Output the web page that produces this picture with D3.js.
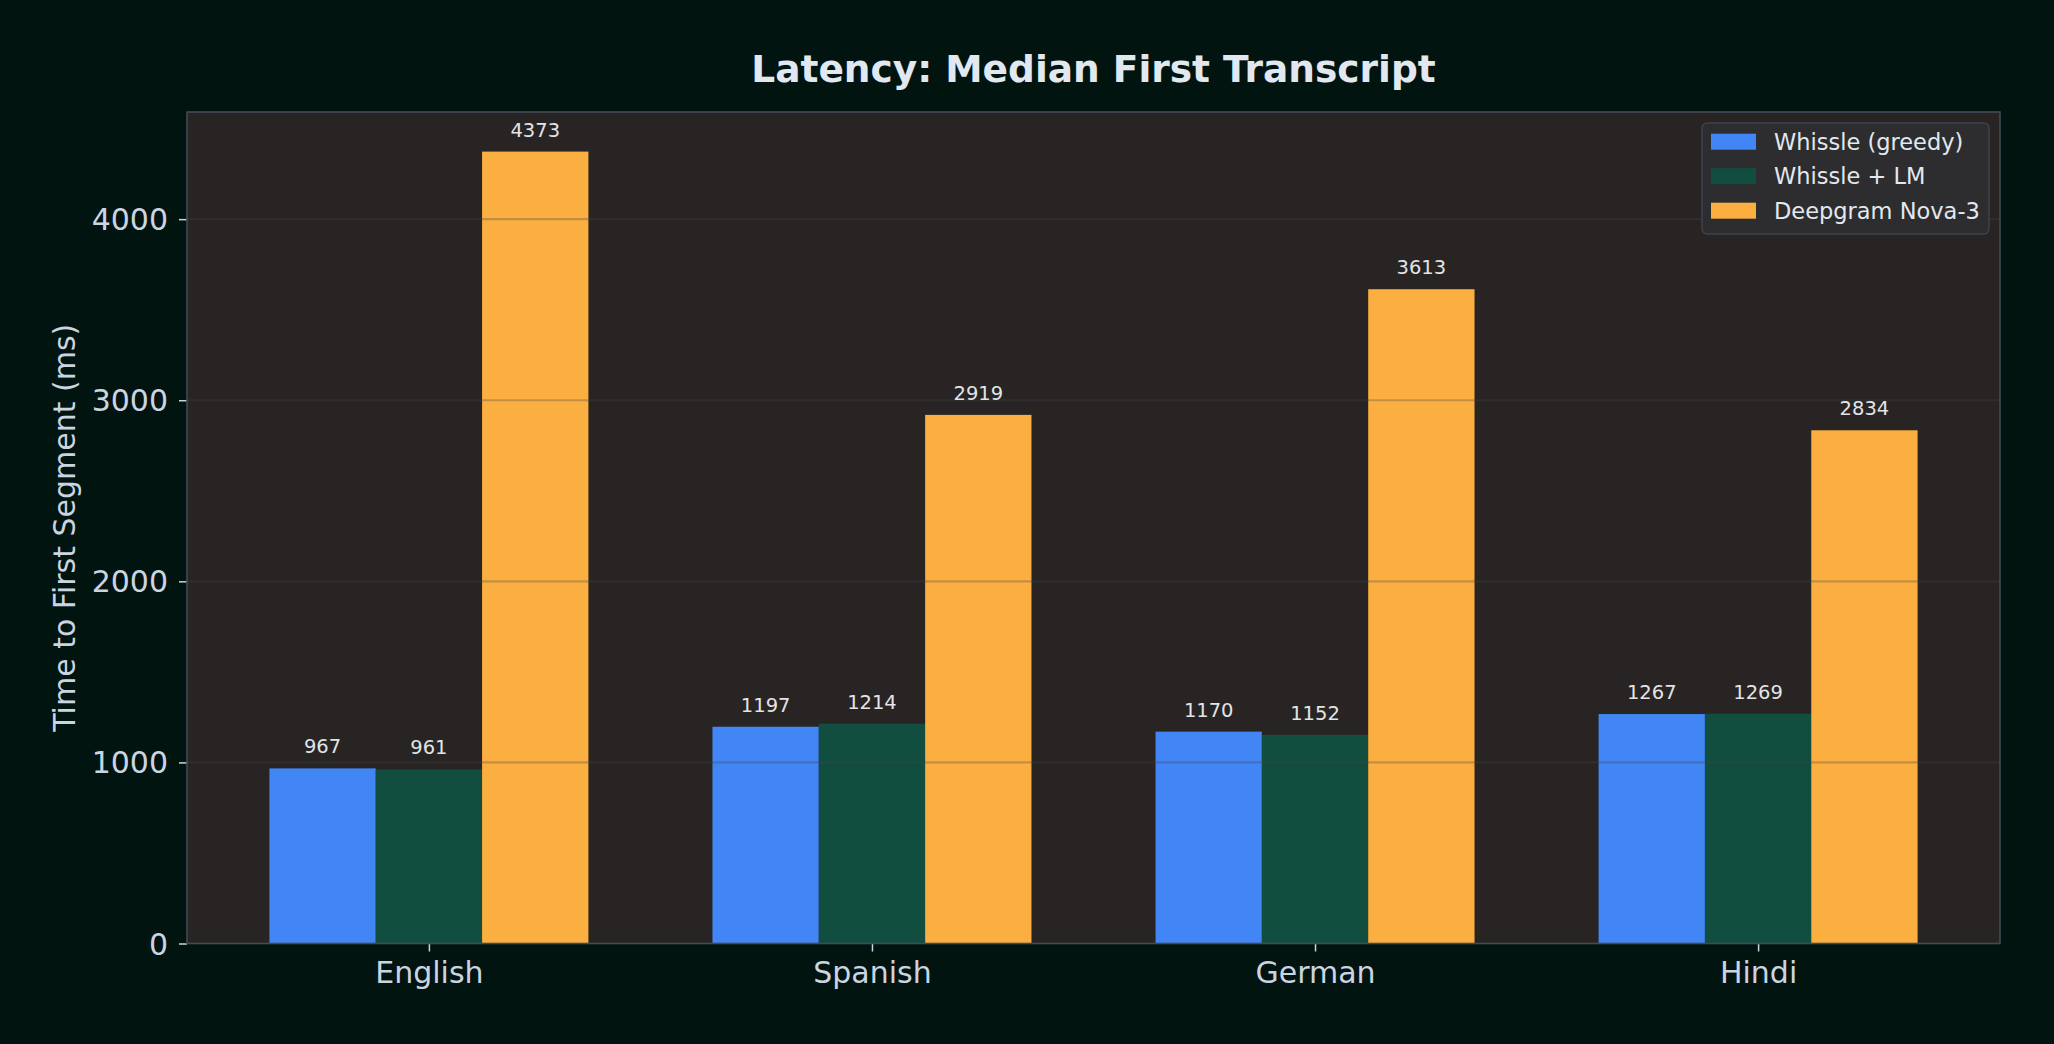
<!DOCTYPE html>
<html>
<head>
<meta charset="utf-8">
<script src="https://cdn.jsdelivr.net/npm/d3@7"></script>
<style>
  html, body { margin: 0; padding: 0; background: #011410; }
  svg { display: block; }
  text { font-family: "DejaVu Sans", sans-serif; }
</style>
</head>
<body>
<svg id="chart" width="2054" height="1044"></svg>
<script>
const categories = ["English", "Spanish", "German", "Hindi"];
const seriesNames = ["Whissle (greedy)", "Whissle + LM", "Deepgram Nova-3"];
const whissleGreedy = [967, 1197, 1170, 1267];
const whissleLM = [961, 1214, 1152, 1269];
const deepgramNova3 = [4373, 2919, 3613, 2834];
const yTicks = [0, 1000, 2000, 3000, 4000];
const seriesColors = ["#4285F4", "#124E40", "#FBAF41"];
const titleText = "Latency: Median First Transcript";
const yLabelText = "Time to First Segment (ms)";

const seriesValues = [whissleGreedy, whissleLM, deepgramNova3];

const W = 2054, H = 1044;
const plot = { left: 187, right: 2000, top: 112, bottom: 943.5 };
const barW = 0.24;

const svg = d3.select("#chart");
svg.append("rect").attr("width", W).attr("height", H).attr("fill", "#011410");

const x = d3.scaleLinear().domain([-0.546, 3.546]).range([plot.left, plot.right]);
const yMax = d3.max(seriesValues.flat()) * 1.05;
const y = d3.scaleLinear().domain([0, yMax]).range([plot.bottom, plot.top]);

// axes background
svg.append("rect")
  .attr("x", plot.left).attr("y", plot.top)
  .attr("width", plot.right - plot.left).attr("height", plot.bottom - plot.top)
  .attr("fill", "#282423");

// bars
const barData = [];
seriesValues.forEach((vals, si) => {
  vals.forEach((v, ci) => barData.push({ si, ci, v }));
});
svg.append("g").selectAll("rect").data(barData).join("rect")
  .attr("x", d => x(d.ci + (d.si - 1) * barW - barW / 2))
  .attr("width", d => x(barW) - x(0))
  .attr("y", d => y(d.v))
  .attr("height", d => y(0) - y(d.v))
  .attr("fill", d => seriesColors[d.si]);

// gridlines on top (semi-transparent)
svg.append("g").selectAll("line").data(yTicks.filter(t => t > 0)).join("line")
  .attr("x1", plot.left).attr("x2", plot.right)
  .attr("y1", d => y(d)).attr("y2", d => y(d))
  .attr("stroke", "#414146").attr("stroke-opacity", 0.3).attr("stroke-width", 2.2);

// value labels
svg.append("g").selectAll("text").data(barData).join("text")
  .attr("x", d => x(d.ci + (d.si - 1) * barW))
  .attr("y", d => y(d.v) - 15)
  .attr("text-anchor", "middle")
  .attr("font-size", 19.5)
  .attr("fill", "#E2E4E8")
  .text(d => d3.format("d")(d.v));

// y axis
const yAxis = svg.append("g").attr("transform", `translate(${plot.left},0)`)
  .call(d3.axisLeft(y).tickValues(yTicks).tickSize(8).tickPadding(11).tickFormat(d3.format("d")));
yAxis.select(".domain").remove();
yAxis.selectAll(".tick line").attr("stroke", "#CBD5E1").attr("stroke-width", 1.5);
yAxis.selectAll(".tick text").attr("fill", "#CBD5E1").attr("font-size", 30)
  .attr("font-family", "DejaVu Sans").attr("dy", "0.35em");

// x axis
const xAxis = svg.append("g").attr("transform", `translate(0,${plot.bottom})`)
  .call(d3.axisBottom(x).tickValues(d3.range(categories.length)).tickSize(8).tickPadding(10)
    .tickFormat(i => categories[i]));
xAxis.select(".domain").remove();
xAxis.selectAll(".tick line").attr("stroke", "#CBD5E1").attr("stroke-width", 1.5);
xAxis.selectAll(".tick text").attr("fill", "#CBD5E1").attr("font-size", 30)
  .attr("font-family", "DejaVu Sans");

// spines
svg.append("rect")
  .attr("x", plot.left).attr("y", plot.top)
  .attr("width", plot.right - plot.left).attr("height", plot.bottom - plot.top)
  .attr("fill", "none").attr("stroke", "#434A56").attr("stroke-width", 1.6);

// title
svg.append("text")
  .attr("x", (plot.left + plot.right) / 2).attr("y", 82)
  .attr("text-anchor", "middle")
  .attr("font-size", 37.5).attr("font-weight", "bold")
  .attr("fill", "#E2E8F0")
  .text(titleText);

// y label
svg.append("text")
  .attr("transform", `translate(75,${(plot.top + plot.bottom) / 2}) rotate(-90)`)
  .attr("text-anchor", "middle")
  .attr("font-size", 30)
  .attr("fill", "#CBD5E1")
  .text(yLabelText);

// legend
const lg = svg.append("g");
lg.append("rect")
  .attr("x", 1702).attr("y", 123).attr("width", 287).attr("height", 111)
  .attr("rx", 5).attr("ry", 5)
  .attr("fill", "#2D2D2F").attr("stroke", "#3C4150").attr("stroke-width", 1.5);
seriesNames.forEach((name, i) => {
  const cy = 141.7 + i * 34.5;
  lg.append("rect")
    .attr("x", 1711).attr("y", cy - 8).attr("width", 45).attr("height", 16)
    .attr("fill", seriesColors[i]);
  lg.append("text")
    .attr("x", 1774).attr("y", cy).attr("dy", "0.35em")
    .attr("font-size", 22.5).attr("fill", "#E2E8F0")
    .text(name);
});
</script>
</body>
</html>
